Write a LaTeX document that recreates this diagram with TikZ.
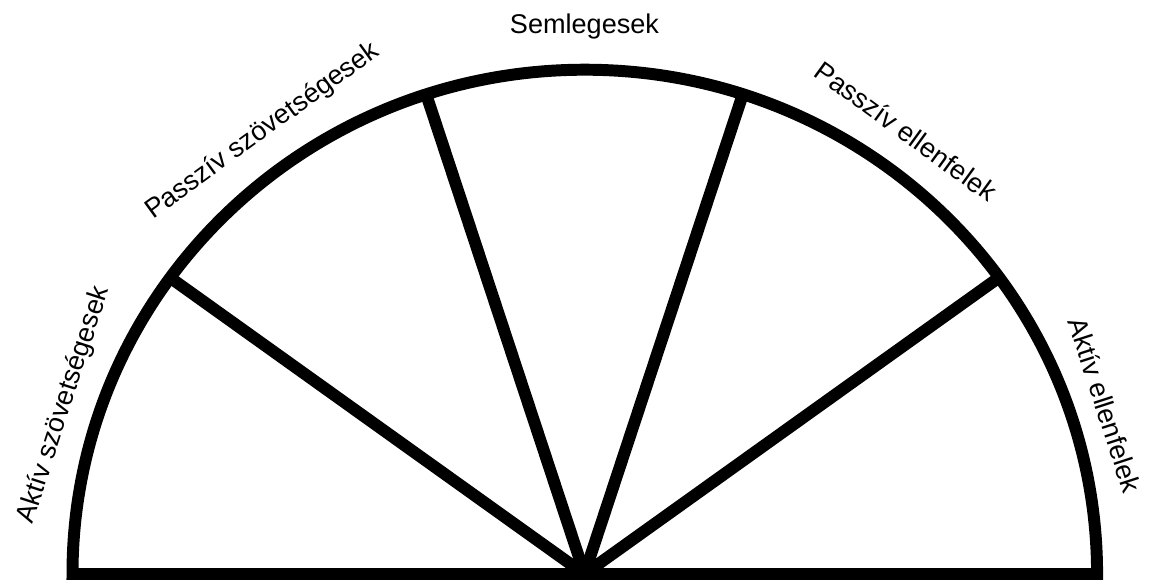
\documentclass[tikz,border=0pt]{standalone}
\usepackage{fontspec}
\setmainfont{Liberation Sans}
\begin{document}
\begin{tikzpicture}[x=0.01cm, y=0.01cm, every node/.style={font=\fontsize{7.7}{9}\selectfont},
    rim/.style={line width=3.4pt, line join=miter}]
  \useasboundingbox (-584.5,-7) rectangle (568.5,574);
  \coordinate (o) at (0,0);
  \draw[rim] (-512,0) arc[start angle=180, end angle=0, x radius=5.12cm, y radius=5.04cm] -- cycle;
  \foreach \a [count=\i] in {36,72,108,144} {
    \coordinate (s\i) at (\a:5.12cm and 5.04cm);
    \draw[rim] (o) -- (s\i);
  }
  \foreach \a/\lbl [count=\i] in {18/{Aktív ellenfelek}, 54/{Passzív ellenfelek}, 90/Semlegesek,
      126/{Passzív szövetségesek}, 162/{Aktív szövetségesek}}
    \node[rotate=\a-90] (lbl\i) at (\a:5.47cm) {\lbl};
\end{tikzpicture}
\end{document}
